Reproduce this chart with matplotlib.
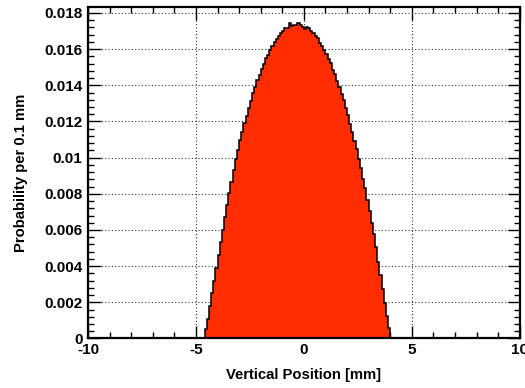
import numpy as np
import matplotlib
matplotlib.use("Agg")
import matplotlib.pyplot as plt
from matplotlib.ticker import MultipleLocator, FixedLocator, FixedFormatter

plt.rcParams['font.family'] = ['Liberation Sans', 'DejaVu Sans']
plt.rcParams['font.weight'] = 'bold'
plt.rcParams['axes.unicode_minus'] = False

# vertical beam profile, 0.1 mm bins starting at -4.6 mm
bin_lo = -4.6
bin_w = 0.1
prob = [
    0.00050, 0.00110, 0.00180, 0.00250, 0.00320, 0.00392, 0.00462, 0.00533,
    0.00602, 0.00670, 0.00738, 0.00805, 0.00868, 0.00930, 0.00990, 0.01043,
    0.01096, 0.01140, 0.01190, 0.01228, 0.01277, 0.01312, 0.01356, 0.01388,
    0.01427, 0.01455, 0.01492, 0.01516, 0.01549, 0.01570, 0.01598, 0.01615,
    0.01641, 0.01655, 0.01672, 0.01690, 0.01698, 0.01715, 0.01718, 0.01745,
    0.01728, 0.01736, 0.01732, 0.01742, 0.01735, 0.01722, 0.01712, 0.01725,
    0.01715, 0.01700, 0.01692, 0.01672, 0.01660, 0.01636, 0.01620, 0.01593,
    0.01574, 0.01544, 0.01521, 0.01487, 0.01460, 0.01422, 0.01392, 0.01351,
    0.01317, 0.01272, 0.01234, 0.01185, 0.01144, 0.01090, 0.01047, 0.00990,
    0.00942, 0.00882, 0.00830, 0.00765, 0.00705, 0.00640, 0.00578, 0.00505,
    0.00425, 0.00350, 0.00272, 0.00198, 0.00122, 0.00058,
]
edges = bin_lo + bin_w * np.arange(len(prob) + 1)

y_ticks = [0, 0.002, 0.004, 0.006, 0.008, 0.01, 0.012, 0.014, 0.016, 0.018]
y_tick_labels = ['0', '0.002', '0.004', '0.006', '0.008', '0.01',
                 '0.012', '0.014', '0.016', '0.018']

fig = plt.figure(figsize=(5.25, 3.88), dpi=100)
ax = fig.add_axes([0.1676, 0.1276, 0.8223, 0.854])

ax.stairs(prob, edges, fill=True, color='#ff2d00', zorder=2)
ax.stairs(prob, edges, color='black', linewidth=1.1, zorder=3)

ax.set_xlim(-10, 10)
ax.set_ylim(0, max(prob) * 1.05)

ax.xaxis.set_major_locator(MultipleLocator(5))
ax.xaxis.set_minor_locator(MultipleLocator(1))
ax.yaxis.set_major_locator(FixedLocator(y_ticks))
ax.yaxis.set_major_formatter(FixedFormatter(y_tick_labels))
ax.yaxis.set_minor_locator(MultipleLocator(0.0004))

ax.tick_params(which='both', direction='in', top=True, right=True,
               labelsize=11, width=1.0, colors='black')
ax.tick_params(which='major', length=9)
ax.tick_params(axis='y', which='major', pad=4)
ax.tick_params(axis='x', which='major', pad=3)
ax.tick_params(which='minor', length=4.5)
for lbl in ax.get_xticklabels() + ax.get_yticklabels():
    lbl.set_fontweight('bold')

ax.grid(True, which='major', color='#333333', linestyle=(0, (1, 2)),
        linewidth=0.8, zorder=1)
ax.set_axisbelow(True)

for sp in ax.spines.values():
    sp.set_linewidth(1.6)
    sp.set_zorder(4)

ax.set_xlabel('Vertical Position [mm]', fontsize=10.7, fontweight='bold', labelpad=8)
ax.set_ylabel('Probability per 0.1 mm', fontsize=10.7, fontweight='bold', labelpad=12)

fig.savefig('out.png', dpi=100)
